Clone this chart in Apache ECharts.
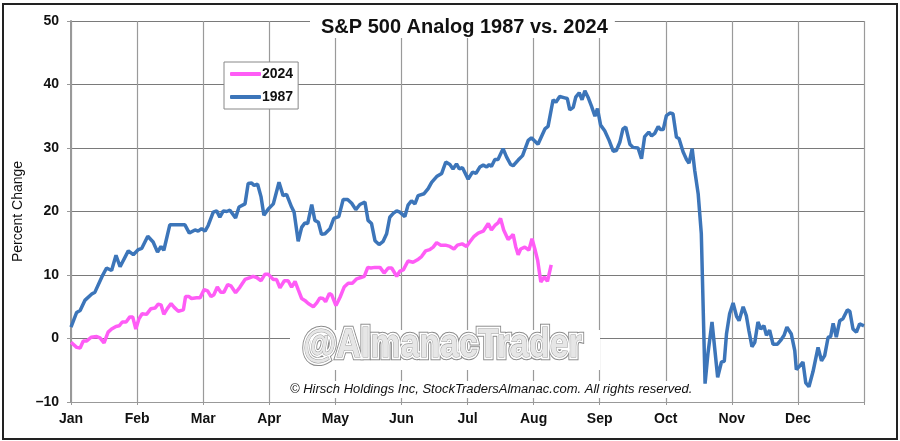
<!DOCTYPE html>
<html>
<head>
<meta charset="utf-8">
<script src="https://cdn.jsdelivr.net/npm/echarts@6/dist/echarts.min.js"></script>
<style>
html,body{margin:0;padding:0;background:#fff;}
#chart{width:900px;height:441px;}
</style>
</head>
<body>
<div id="chart"></div>
<script>
// Month tick labels (one month = 21 trading days)
const monthLabels = ['Jan','Feb','Mar','Apr','May','Jun','Jul','Aug','Sep','Oct','Nov','Dec'];
const yTicks = [-10, 0, 10, 20, 30, 40, 50];

// 1987: trading-day index and percent change
const days1987 = [0,1.8,2.9,4.4,6.6,7.6,9.8,11.3,12.9,14.3,15.6,18.2,19.8,21.4,22.5,24.4,26.1,27.5,28.6,29.5,31.4,36.2,37.6,39.4,40.4,41.5,42.6,43.6,45.2,46.3,47.3,48.4,49.5,50.5,52.3,53.4,55.3,56.3,57.4,58.2,59.3,60.4,61.3,62.7,64.3,66.1,67.4,68.5,70.1,70.9,72.2,73.3,74.3,75.2,76.5,77.5,78.6,79.6,80.7,82.3,83.5,85.1,86.5,87.9,89.2,90.5,91.8,93.4,94.4,95.5,96.6,97.9,99.2,100.3,101.3,102.4,103.5,104.5,106.1,107.1,108.2,109.3,110.3,112.2,113.5,114.6,116.2,117.8,119.1,120.4,121.4,122.5,123.4,124.4,126.2,127.6,128.7,129.9,131.0,132.1,132.9,133.6,134.7,135.7,137.3,138.4,139.7,140.5,142.1,143.5,145.3,146.3,148.4,150.6,151.6,153.2,154.1,155.3,156.9,157.7,158.5,159.6,160.4,161.5,162.4,163.3,164.3,165.4,166.5,167.3,168.3,169.6,171.0,172.3,173.3,174.4,175.4,176.3,177.6,178.6,180.2,181.3,182.3,183.6,184.5,185.5,186.6,187.3,188.2,189.2,190.3,191.3,192.4,193.2,194.5,195.6,196.4,197.4,198.2,199.3,200.3,201.5,202.4,203.7,204.3,205.5,206.7,207.6,208.3,209.3,210.4,211.5,212.3,213.6,214.6,215.4,216.4,217.3,218.3,219.2,220.2,221.0,222.0,223.1,224.5,225.5,226.6,227.5,228.9,230.0,230.5,231.6,232.6,233.5,234.5,235.8,237.4,238.5,239.5,240.6,241.4,242.2,243.2,244.3,245.3,246.7,247.5,248.5,249.6,250.6,252];
const pct1987 = [1.8,4.1,4.4,6.0,7.0,7.3,9.7,11.1,10.7,13.1,11.3,13.8,13.2,14.0,14.2,16.1,15.2,13.6,14.5,13.9,17.9,17.9,16.6,17.1,16.9,17.3,16.9,17.8,19.9,20.1,19.1,20.1,20.0,20.2,19.0,20.7,21.2,24.4,24.5,24.1,24.3,22.3,19.4,20.4,21.2,24.6,22.5,22.7,20.7,19.9,15.3,17.5,18.2,18.1,21.1,18.6,18.3,16.4,16.5,17.3,18.9,19.2,21.9,21.9,21.3,20.3,21.1,21.5,18.6,18.1,15.4,14.8,15.3,16.5,19.1,19.7,20.1,19.9,19.2,21.0,21.7,21.2,22.5,22.8,23.6,24.6,25.5,26.0,27.8,27.4,26.7,27.5,26.7,26.9,25.1,26.2,26.0,27.0,27.3,27.0,27.4,27.1,28.2,28.2,29.9,28.6,27.4,27.2,28.1,28.8,31.2,31.6,30.6,33.0,33.4,37.6,37.2,38.1,37.9,37.8,36.0,36.4,38.0,38.7,37.6,39.0,38.0,36.6,35.0,36.2,33.6,32.7,31.2,29.5,29.6,30.9,33.0,33.3,30.6,30.1,30.0,28.3,31.8,32.5,31.9,32.3,33.4,32.9,32.9,35.1,35.5,35.4,31.7,31.5,29.4,28.2,27.6,29.9,26.5,22.8,16.5,-7.1,-2.4,2.6,2.6,-6.1,-3.7,-3.6,0.7,3.9,5.6,3.5,2.8,5.0,3.6,1.3,-1.3,-0.6,2.6,1.5,2.0,0.5,1.3,-0.9,-0.9,-0.3,0.5,1.8,0.7,-1.9,-4.9,-4.3,-3.7,-7.0,-7.6,-5.2,-1.4,-3.5,-2.7,0.2,0.3,2.4,0.2,2.8,3.1,4.5,4.3,1.5,1.0,2.3,2.0];

// 2024: trading-day index and percent change
const days2024 = [0,1.8,2.9,3.9,5.0,6.4,8.2,9.2,10.5,11.8,12.9,14.3,15.3,16.3,17.5,18.7,19.6,20.6,21.6,22.6,24.0,25.4,26.7,27.7,28.6,29.5,30.6,31.8,32.8,34.1,35.7,36.4,37.5,38.3,39.9,41.0,42.3,43.4,44.5,45.4,46.5,47.6,48.6,49.8,50.8,52.3,53.7,55.3,56.9,57.9,59.0,60.4,61.6,62.7,64.3,65.3,66.4,67.8,69.0,70.1,71.2,72.2,73.3,74.3,75.4,77.0,78.1,79.1,80.1,80.9,82.1,82.8,84.2,85.5,86.8,88.1,89.4,90.8,92.1,93.2,94.3,95.3,96.6,98.2,99.5,100.8,101.9,103.5,104.5,105.6,107.1,108.7,110.1,111.4,112.7,114.0,115.1,116.2,117.5,119.0,120.4,121.7,122.8,124.3,125.7,126.7,128.1,129.4,131.0,131.5,132.6,133.6,134.7,135.7,136.5,137.5,138.9,139.8,140.5,141.3,142.1,142.9,144.2,145.5,146.5,147.4,148.3,149.3,150.4,151.4,152.6];
const pct2024 = [-0.6,-1.4,-1.5,-0.4,-0.4,0.2,0.3,0.1,-0.7,1.0,1.5,1.9,2.0,2.6,2.6,3.4,3.4,1.5,3.1,3.9,3.8,4.7,4.8,5.4,5.3,3.8,4.7,5.5,4.9,4.3,4.5,6.6,6.6,6.3,6.4,6.4,7.7,7.5,6.6,6.9,8.1,7.3,7.3,8.5,8.3,7.2,8.1,9.3,9.6,9.8,9.6,9.1,10.1,10.1,9.3,9.3,8.0,9.1,9.1,8.1,9.0,7.7,6.3,6.0,5.5,5.0,5.6,6.4,6.3,5.8,7.1,6.9,5.2,6.5,8.1,8.7,8.7,9.4,9.6,9.8,11.2,11.1,11.2,11.2,10.3,11.1,11.1,9.8,10.6,10.8,12.2,12.0,12.4,12.9,13.8,14.0,14.4,15.1,14.7,14.7,14.5,14.1,14.7,14.9,14.5,15.2,16.1,16.6,16.9,17.0,18.1,17.1,17.8,18.2,18.9,17.1,15.6,16.0,16.4,14.5,13.2,14.1,14.4,13.9,15.7,14.1,12.3,8.9,9.7,9.0,11.6];

const zip = (xs, ys) => xs.map((x, i) => [x, ys[i]]);

const chart = echarts.init(document.getElementById('chart'));
const outline = (extra) => ({
  type: 'text', z: 20, silent: true,
  x: 303, y: 346, scaleX: 0.895, scaleY: 1.08,
  style: Object.assign({
    text: '@AlmanacTrader', x: 0, y: 0,
    font: 'bold 38px "Liberation Sans", Arial, sans-serif',
    textAlign: 'left', textVerticalAlign: 'middle'
  }, extra)
});

chart.setOption({
  backgroundColor: '#ffffff',
  animation: false,
  title: {
    text: 'S&P 500 Analog 1987 vs. 2024',
    left: 310, top: 15,
    padding: [1, 7, 0, 11],
    backgroundColor: '#ffffff',
    textStyle: { fontFamily: '"Liberation Sans", Arial, sans-serif', fontSize: 20, fontWeight: 'bold', color: '#111', lineHeight: 22 }
  },
  legend: {
    orient: 'vertical', left: 224, top: 62,
    padding: [5, 5, 5, 6], itemWidth: 31, itemHeight: 4, itemGap: 9,
    icon: 'roundRect',
    backgroundColor: '#ffffff', borderColor: '#888', borderWidth: 1,
    textStyle: { fontFamily: '"Liberation Sans", Arial, sans-serif', fontSize: 14, fontWeight: 'bold', color: '#111', padding: [0, 0, 0, -4] },
    data: ['2024', '1987']
  },
  grid: { left: 71, right: 36, top: 21, bottom: 39 },
  xAxis: {
    type: 'value', min: 0, max: 252, interval: 21,
    axisLine: { show: true, onZero: false, lineStyle: { color: '#999', width: 1 } },
    axisTick: { show: true, length: 3, lineStyle: { color: '#999' } },
    axisLabel: {
      margin: 10,
      fontFamily: '"Liberation Sans", Arial, sans-serif', fontSize: 14, fontWeight: 'bold', color: '#111',
      formatter: v => monthLabels[Math.round(v / 21)] || ''
    },
    splitLine: { show: true, lineStyle: { color: '#9a9a9a', width: 1.2 } }
  },
  yAxis: {
    type: 'value', min: yTicks[0], max: yTicks[yTicks.length - 1], interval: 10,
    name: 'Percent Change', nameLocation: 'middle', nameGap: 41,
    nameTextStyle: { fontFamily: '"Liberation Sans", Arial, sans-serif', fontSize: 14, color: '#111' },
    axisLine: { show: true, lineStyle: { color: '#999', width: 2 } },
    axisTick: { show: true, length: 4, lineStyle: { color: '#999' } },
    axisLabel: {
      margin: 12,
      fontFamily: '"Liberation Sans", Arial, sans-serif', fontSize: 14, fontWeight: 'bold', color: '#111',
      formatter: v => v < 0 ? '\u2013' + Math.abs(v) : String(v)
    },
    splitLine: { show: true, lineStyle: { color: '#7a7a7a', width: 1 } }
  },
  graphic: [
    { type: 'rect', z: 15, silent: true, shape: { x: 290, y: 330, width: 310, height: 40 }, style: { fill: '#ffffff' } },
    { type: 'rect', z: 15, silent: true, shape: { x: 287, y: 381, width: 404, height: 17 }, style: { fill: '#ffffff' } },
    outline({ fill: 'none', stroke: '#8a8a8a', lineWidth: 6 }),
    outline({ fill: 'none', stroke: '#ffffff', lineWidth: 4 }),
    outline({ fill: '#e6e6e6', stroke: '#9a9a9a', lineWidth: 1 }),
    {
      type: 'text', z: 20, silent: true,
      style: {
        text: '\u00A9 Hirsch Holdings Inc, StockTradersAlmanac.com. All rights reserved.',
        x: 290, y: 389, textAlign: 'left', textVerticalAlign: 'middle',
        font: 'italic 13px "Liberation Sans", Arial, sans-serif', fill: '#111'
      }
    },
    { type: 'rect', z: 30, silent: true, shape: { x: 3, y: 4, width: 894, height: 435 }, style: { fill: 'none', stroke: '#222', lineWidth: 2 } }
  ],
  series: [
    {
      name: '2024', type: 'line', symbol: 'none', z: 3,
      lineStyle: { color: '#ff5cf6', width: 3.5 }, itemStyle: { color: '#ff5cf6' },
      data: zip(days2024, pct2024)
    },
    {
      name: '1987', type: 'line', symbol: 'none', z: 3,
      lineStyle: { color: '#3c75b9', width: 3.5 }, itemStyle: { color: '#3c75b9' },
      data: zip(days1987, pct1987)
    }
  ]
});
</script>
</body>
</html>
